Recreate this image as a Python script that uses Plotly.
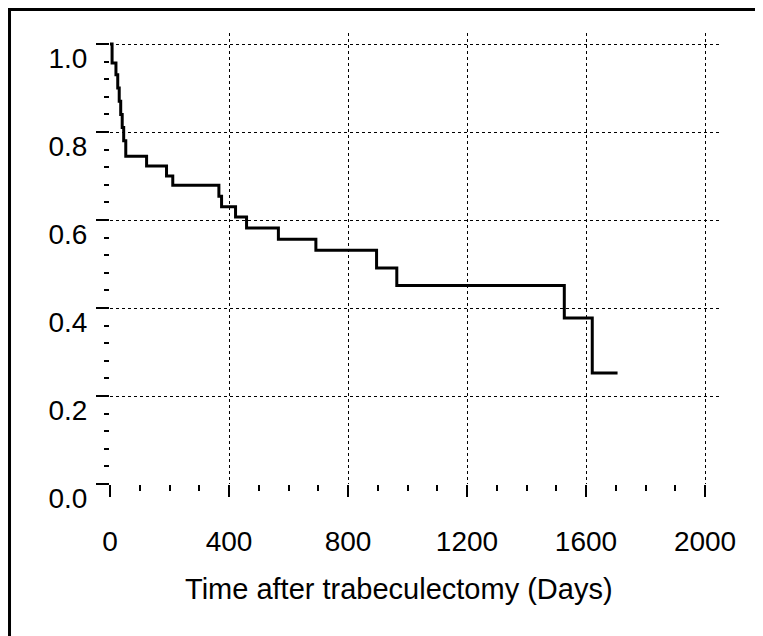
import plotly.graph_objects as go

# Kaplan-Meier style survival after trabeculectomy
days = [0, 7, 20, 26, 31, 36, 41, 46, 53, 123, 190, 211, 366, 375, 422,
        459, 566, 692, 896, 964, 1527, 1621, 1706]
survival = [1.0, 0.957, 0.93, 0.90, 0.87, 0.84, 0.81, 0.78, 0.745, 0.723,
            0.70, 0.679, 0.654, 0.630, 0.607, 0.582, 0.556, 0.531, 0.491,
            0.451, 0.377, 0.252, 0.252]

x_ticks = [0, 400, 800, 1200, 1600, 2000]
y_ticks = [0.0, 0.2, 0.4, 0.6, 0.8, 1.0]
y_tick_labels = ['0.0', '0.2', '0.4', '0.6', '0.8', '1.0']
x_title = 'Time after trabeculectomy (Days)'

font_family = 'Arial, Liberation Sans, sans-serif'

fig = go.Figure()
fig.add_trace(go.Scatter(
    x=days,
    y=survival,
    mode='lines',
    line=dict(color='black', width=3, shape='hv'),
    showlegend=False,
))

fig.update_xaxes(
    range=[0, 2047],
    tickvals=x_ticks,
    ticktext=[str(v) for v in x_ticks],
    ticks='outside', ticklen=12, tickwidth=2, tickcolor='black',
    minor=dict(dtick=100, ticks='outside', ticklen=6, tickwidth=2, tickcolor='black'),
    showgrid=True, gridcolor='black', gridwidth=1, griddash='dot',
    zeroline=False, showline=False,
    tickfont=dict(family=font_family, size=28, color='black'),
    ticklabelstandoff=20,
)
fig.update_yaxes(
    range=[0, 1.025],
    tickvals=y_ticks,
    ticktext=y_tick_labels,
    ticks='outside', ticklen=13, tickwidth=2, tickcolor='black',
    minor=dict(dtick=0.04, ticks='outside', ticklen=5, tickwidth=2, tickcolor='black'),
    showgrid=True, gridcolor='black', gridwidth=1, griddash='dot',
    zeroline=False, showline=False,
    tickfont=dict(family=font_family, size=28, color='black'),
    ticklabelstandoff=3,
    ticklabelshift=14,
)

# axis title sits a little left of the plot centre in the scan
fig.add_annotation(
    x=0.475, y=-0.192, xref='paper', yref='paper',
    text=x_title, showarrow=False,
    xanchor='center', yanchor='top',
    font=dict(family=font_family, size=29, color='black'),
)

# scanned page frame (top and left edges visible)
fig.add_shape(type='rect', xref='paper', yref='paper',
              x0=-0.165, y0=-0.6, x1=1.3, y1=1.052,
              line=dict(color='black', width=3))

# page body adds 8px on the left/top, so margins are trimmed to compensate
fig.update_layout(
    width=763, height=636,
    margin=dict(l=102, r=52, t=25, b=160),
    paper_bgcolor='white', plot_bgcolor='white',
)
fig.write_html("out.html")
